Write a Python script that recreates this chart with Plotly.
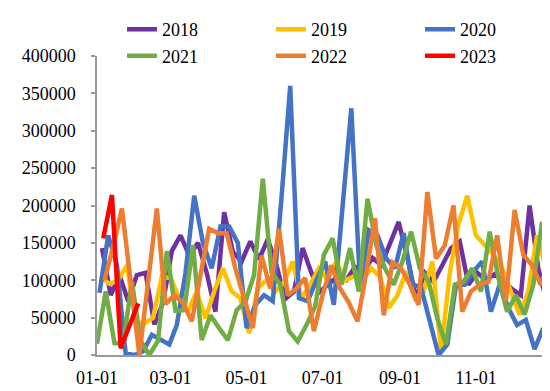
import pandas as pd
import plotly.graph_objects as go

# ---- data (weekly, Friday observations) ----
years = ["2018", "2019", "2020", "2021", "2022", "2023"]
first_dates = ["2018-01-05", "2019-01-04", "2020-01-03", "2021-01-01", "2022-01-07", "2023-01-06"]
colors = ["#7030A0", "#FFC000", "#4472C4", "#70AD47", "#ED7D31", "#FF0000"]

values_2018 = [143000, 80000, 107000, 72000, 107000, 110000, 41000, 70000, 139000, 160000,
               133000, 150000, 110000, 58000, 191000, 138000, 125000, 152000, 128000, 155000,
               120000, 75000, 85000, 143000, 110000, 85000, 95000, 105000, 100000, 118000,
               112000, 130000, 120000, 150000, 178000, 130000, 76000, 110000, 98000, 120000,
               143000, 152000, 94000, 110000, 100000, 108000, 100000, 88000, 80000, 200000,
               116000, 69000]
values_2019 = [105000, 95000, 100000, 120000, 45000, 42000, 50000, 105000, 103000, 76000,
               58000, 85000, 49000, 85000, 116000, 85000, 76000, 29000, 90000, 100000,
               85000, 97000, 125000, 76000, 94000, 116000, 100000, 125000, 100000, 105000,
               100000, 116000, 105000, 63000, 80000, 112000, 76000, 85000, 125000, 5000,
               110000, 175000, 213000, 160000, 147000, 134000, 116000, 85000, 54000, 85000,
               160000, 116000]
values_2020 = [83000, 160000, 120000, 2000, 0, 5000, 27000, 20000, 14000, 40000,
               110000, 213000, 150000, 116000, 172000, 172000, 150000, 36000, 67000, 80000,
               72000, 210000, 360000, 76000, 72000, 100000, 125000, 67000, 200000, 330000,
               94000, 167000, 160000, 129000, 116000, 163000, 95000, 90000, 45000, 0,
               14000, 94000, 94000, 112000, 125000, 58000, 94000, 63000, 40000, 47000,
               8000, 36000]
values_2021 = [15000, 85000, 16000, 15000, 98000, 19000, 0, 19000, 139000, 59000,
               60000, 147000, 20000, 53000, 36000, 20000, 60000, 71000, 107000, 236000,
               111000, 94000, 32000, 18000, 40000, 65000, 134000, 156000, 94000, 143000,
               85000, 209000, 147000, 116000, 94000, 125000, 165000, 116000, 98000, 49000,
               14000, 94000, 98000, 116000, 85000, 165000, 103000, 58000, 80000, 54000,
               94000, 178000, 112000]
values_2022 = [100000, 145000, 196000, 98000, 0, 98000, 196000, 68000, 80000, 70000,
               45000, 107000, 169000, 163000, 163000, 116000, 76000, 36000, 133000, 89000,
               169000, 80000, 89000, 103000, 32000, 80000, 120000, 89000, 70000, 45000,
               110000, 183000, 53000, 124000, 116000, 94000, 67000, 218000, 129000, 147000,
               200000, 58000, 85000, 94000, 98000, 160000, 72000, 194000, 134000, 120000,
               94000, 129000]
values_2023 = [156000, 214000, 9000, 38000, 69000]

series_values = [values_2018, values_2019, values_2020, values_2021, values_2022, values_2023]

tick_dates = ["2021-01-01", "2021-03-01", "2021-05-01", "2021-07-01", "2021-09-01", "2021-11-01"]
tick_labels = ["01-01", "03-01", "05-01", "07-01", "09-01", "11-01"]
y_ticks = [0, 50000, 100000, 150000, 200000, 250000, 300000, 350000, 400000]

FONT = "Liberation Serif, Times New Roman, serif"

fig = go.Figure()
for name, start, vals, col in zip(years, first_dates, series_values, colors):
    dates = pd.date_range(start=start, periods=len(vals), freq="7D")
    # place every year on a common month-day axis
    x = [d.replace(year=2021) for d in dates]
    fig.add_trace(go.Scatter(
        x=x, y=vals, name=name, mode="lines",
        line=dict(color=col, width=4.5),
    ))

fig.update_layout(
    width=550, height=391,
    margin=dict(l=89, r=6, t=47.5, b=43.5, autoexpand=False),
    paper_bgcolor="white", plot_bgcolor="white",
    font=dict(family=FONT, size=18, color="#000000"),
    showlegend=True,
    legend=dict(
        orientation="h",
        x=0.055, y=1.15, xanchor="left", yanchor="top",
        entrywidth=104, entrywidthmode="pixels",
        font=dict(family=FONT, size=18, color="#000000"),
        bgcolor="rgba(0,0,0,0)",
        traceorder="normal",
        itemclick=False,
    ),
    xaxis=dict(
        type="date",
        range=["2021-01-01", "2022-01-01"],
        tickvals=tick_dates, ticktext=tick_labels,
        showgrid=False, zeroline=False,
        showline=True, linecolor="#999999", linewidth=1.5,
        ticks="", ticklabelstandoff=6,
        tickfont=dict(family=FONT, size=18, color="#000000"),
    ),
    yaxis=dict(
        range=[0, 400000],
        tickvals=y_ticks, ticktext=[str(v) for v in y_ticks],
        showgrid=False, zeroline=False,
        showline=True, linecolor="#999999", linewidth=1.5,
        ticks="outside", ticklen=4, tickcolor="#999999", tickwidth=1.5,
        ticklabelstandoff=12,
        tickfont=dict(family=FONT, size=18, color="#000000"),
    ),
)

fig.write_html("out.html")
